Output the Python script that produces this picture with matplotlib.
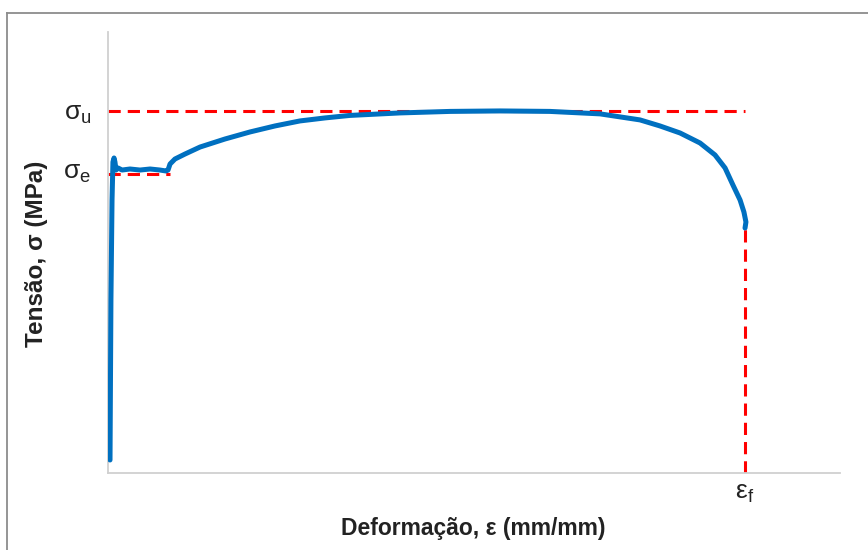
import matplotlib
matplotlib.use("Agg")
import matplotlib.pyplot as plt
from matplotlib.lines import Line2D

plt.rcParams['font.family'] = ['Liberation Sans', 'DejaVu Sans']
plt.rcParams['mathtext.fontset'] = 'custom'
plt.rcParams['mathtext.rm'] = 'Liberation Sans'
plt.rcParams['mathtext.it'] = 'Liberation Sans'

# Stress-strain curve (strain mm/mm, stress MPa)
strain = [0.0011, 0.0016, 0.0022, 0.0027, 0.0033, 0.0038, 0.0044, 0.0055,
          0.0077, 0.0120, 0.0175, 0.0230, 0.0284, 0.0317, 0.0328, 0.0339,
          0.0366, 0.0421, 0.0503, 0.0639, 0.0776, 0.0913, 0.1049, 0.1186,
          0.1322, 0.1596, 0.1869, 0.2142, 0.2415, 0.2689, 0.2798, 0.2907,
          0.3016, 0.3126, 0.3235, 0.3317, 0.3372, 0.3415, 0.3454, 0.3475,
          0.3486, 0.3481]
stress = [17.7, 235.4, 371.4, 423.1, 428.6, 423.1, 412.2, 414.97,
          412.2, 413.6, 412.2, 413.6, 412.2, 410.9, 412.2, 420.4,
          427.2, 434.0, 443.5, 454.4, 464.0, 472.2, 479.0, 483.1,
          486.5, 489.9, 491.96, 492.6, 491.96, 488.6, 484.5, 480.4,
          472.2, 462.6, 449.0, 432.7, 415.0, 391.8, 371.4, 355.1,
          341.5, 333.3]

sigma_e = 406.8
sigma_u = 492.6
eps_f = 0.3481
sigma_f = 333.3
eps_e_end = 0.0339

fig = plt.figure(figsize=(8.68, 5.5), dpi=100)
ax = fig.add_axes([108/868, 1-473/550, (840-108)/868, (473-32)/550])
ax.set_xlim(0, 0.4)
ax.set_ylim(0, 600)

red = '#FF0000'
dash = (0, (4, 2.3))
ax.plot([0, eps_f], [sigma_u, sigma_u], color=red, lw=2.2, linestyle=dash, zorder=2)
ax.plot([0, eps_e_end], [sigma_e, sigma_e], color=red, lw=2.2, linestyle=dash, zorder=2)
ax.plot([eps_f, eps_f], [0, sigma_f], color=red, lw=2.2, linestyle=dash, zorder=2)

ax.plot(strain, stress, color='#0070C0', lw=3.6, solid_capstyle='round',
        solid_joinstyle='round', zorder=3)

for s in ['top', 'right']:
    ax.spines[s].set_visible(False)
for s in ['left', 'bottom']:
    ax.spines[s].set_color('#d0d0d0')
    ax.spines[s].set_linewidth(1.3)

ax.set_xticks([eps_f])
ax.set_xticklabels([r'ε$_\mathrm{f}$'], fontsize=19)
ax.set_yticks([sigma_e + 6, sigma_u])
ax.set_yticklabels([r'σ$_\mathrm{e}$', r'σ$_\mathrm{u}$'], fontsize=19)
ax.tick_params(axis='both', length=0, colors='#222222')
ax.tick_params(axis='x', pad=6)
ax.tick_params(axis='y', pad=12)

fig.text(473/868, 1-529/550, 'Deformação, ε (mm/mm)', ha='center', va='center',
         fontsize=16.5, fontweight='bold', color='#222222')
fig.text(37/868, 1-254/550, 'Tensão, σ (MPa)', ha='center', va='center',
         rotation=90, fontsize=17.5, fontweight='bold', color='#222222')

# outer frame (top and left edges)
fig.add_artist(Line2D([6.5/868, 6.5/868], [0, 1-13/550], color='#8c8c8c', lw=1.3,
                      transform=fig.transFigure))
fig.add_artist(Line2D([6.5/868, 1], [1-13/550, 1-13/550], color='#8c8c8c', lw=1.3,
                      transform=fig.transFigure))

fig.savefig('out.png', dpi=100)
